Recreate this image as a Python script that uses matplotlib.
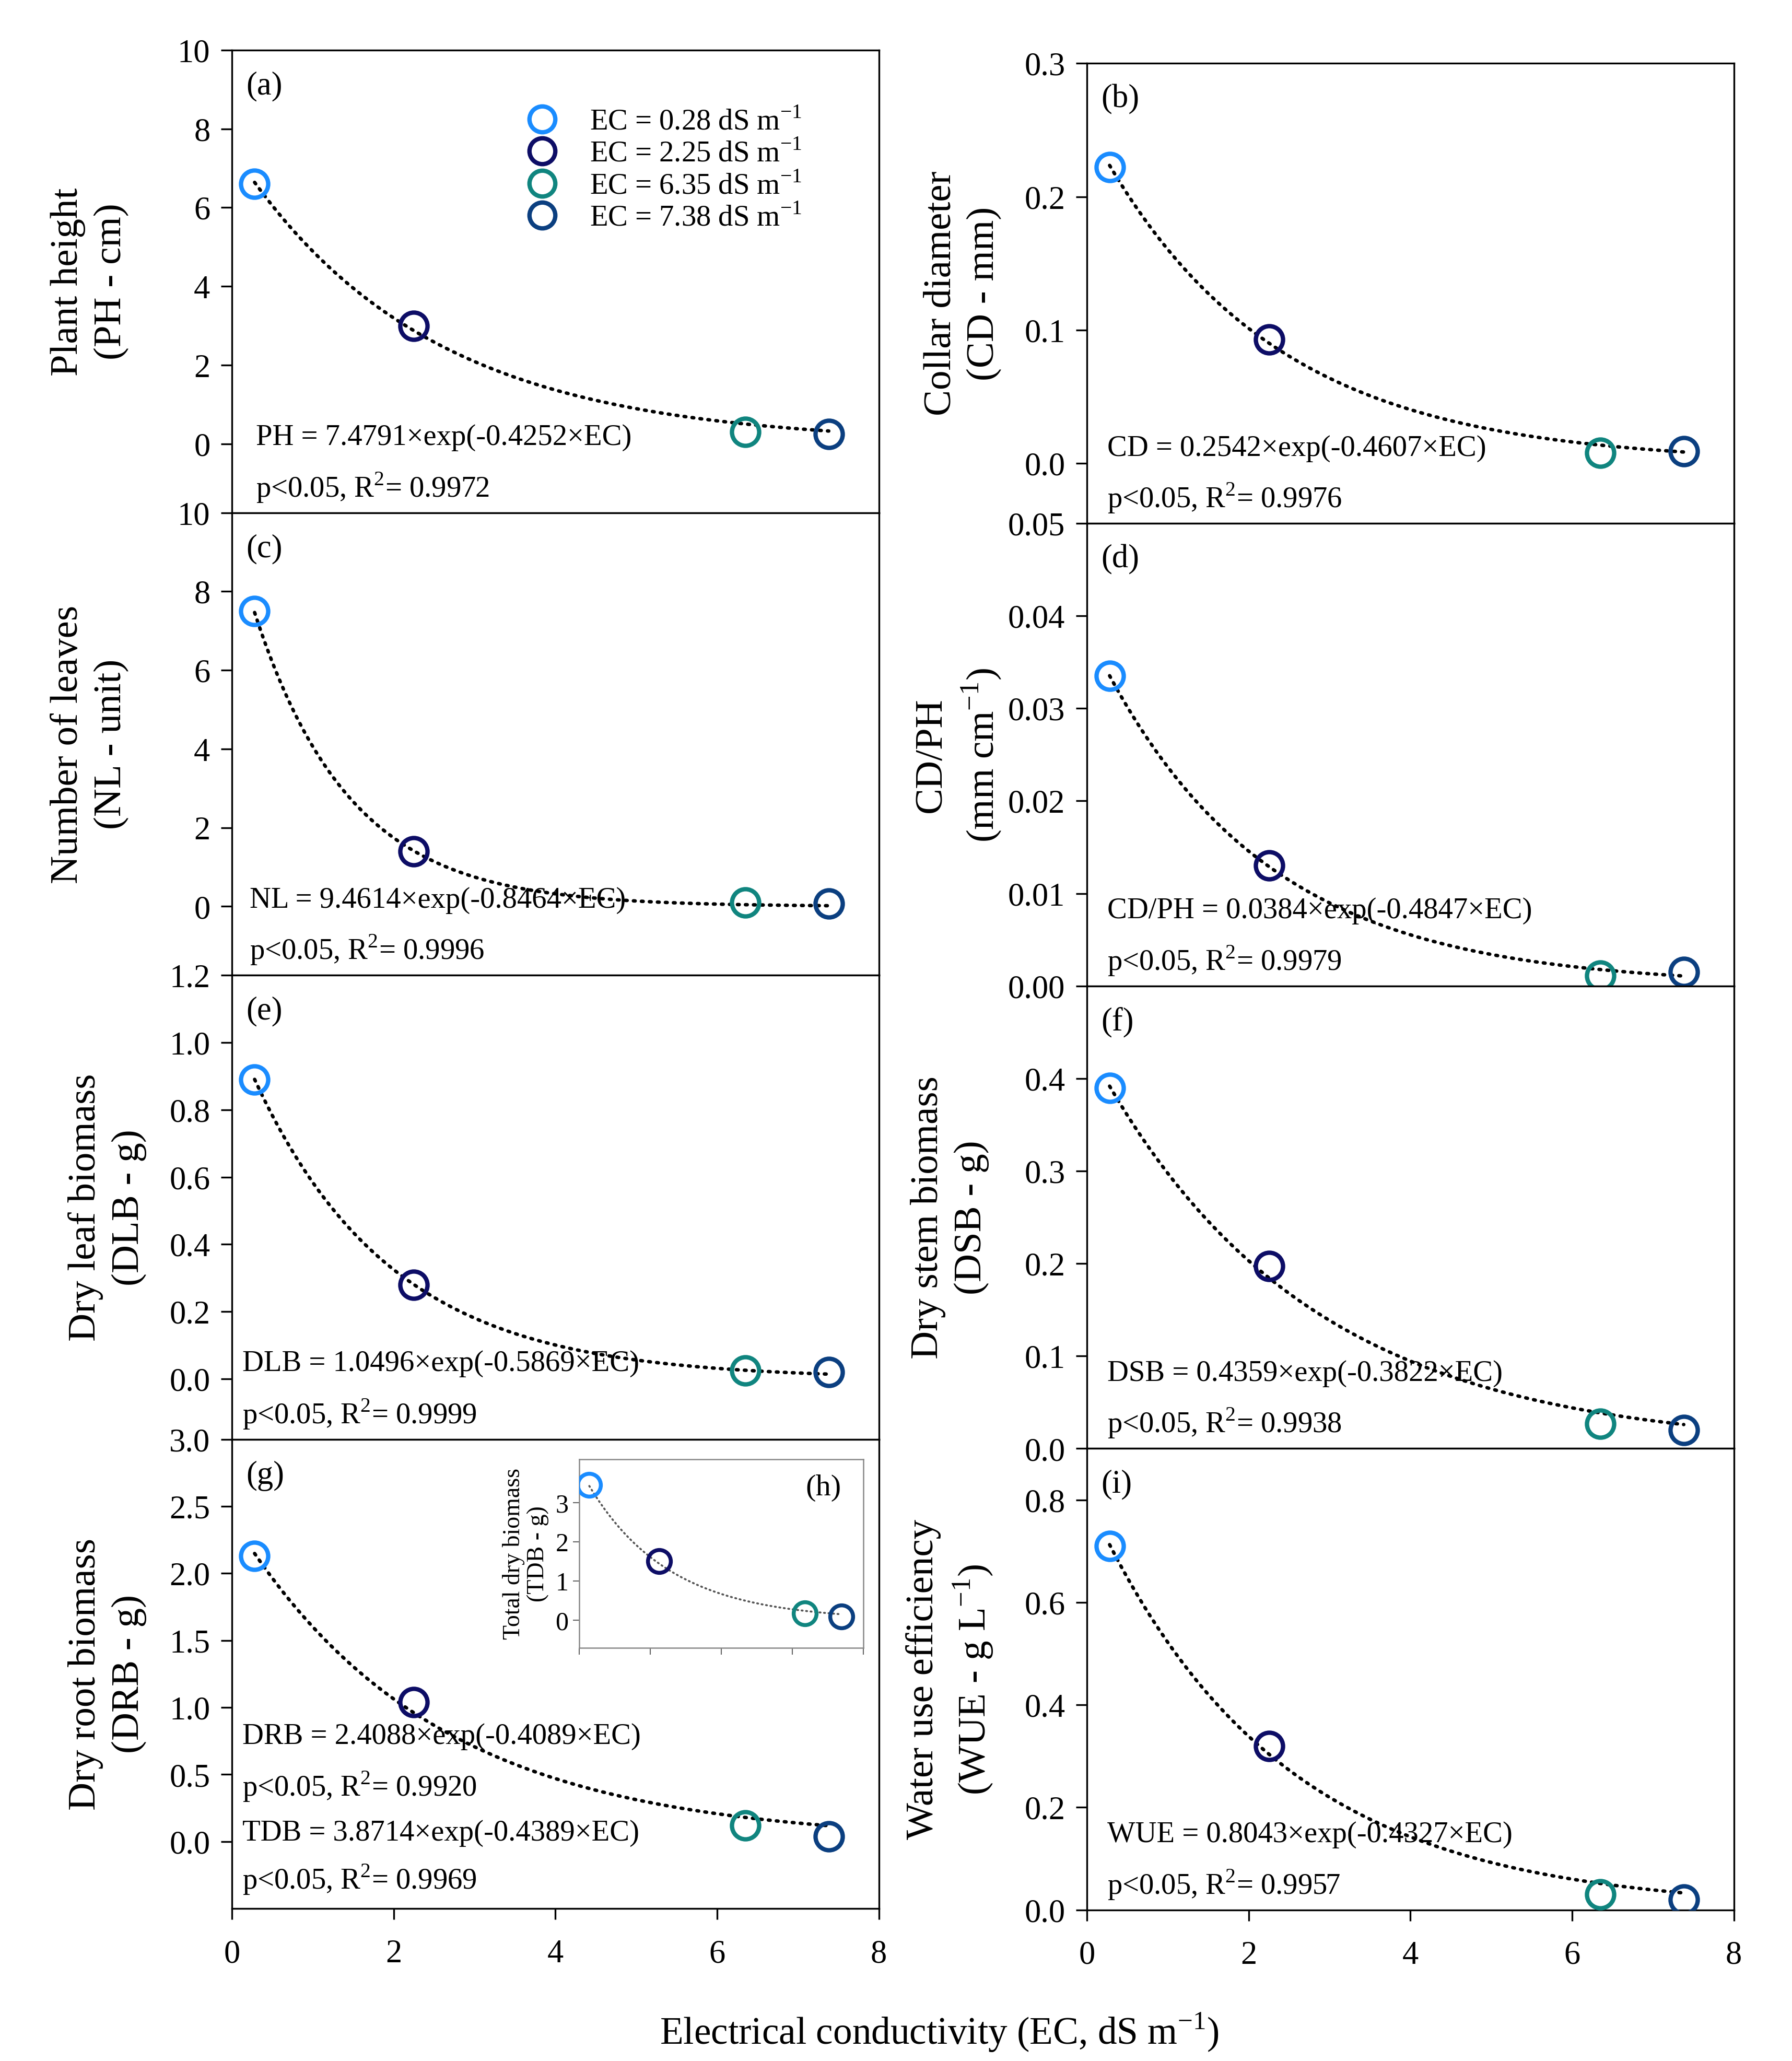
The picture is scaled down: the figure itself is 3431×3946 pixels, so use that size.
import numpy as np
import matplotlib
matplotlib.use("Agg")
import matplotlib.pyplot as plt
from matplotlib.ticker import FormatStrFormatter

plt.rcParams['font.family'] = ['Liberation Serif', 'DejaVu Serif']
plt.rcParams['mathtext.fontset'] = 'custom'
plt.rcParams['mathtext.rm'] = 'Liberation Serif'

# treatment levels (EC, dS m-1)
ec = [0.28, 2.25, 6.35, 7.38]
ec_colors = ['#1a8cff', '#0d0d66', '#10857f', '#0b3f80']

ph = [6.6, 3.0, 0.30, 0.25]
cd = [0.222, 0.093, 0.008, 0.009]
nl = [7.5, 1.4, 0.10, 0.07]
cd_ph = [0.0335, 0.013, 0.0011, 0.0015]
dlb = [0.89, 0.28, 0.025, 0.02]
dsb = [0.39, 0.197, 0.027, 0.020]
drb = [2.13, 1.04, 0.12, 0.04]
tdb = [3.45, 1.50, 0.18, 0.10]
wue = [0.71, 0.32, 0.03, 0.02]

# fitted exponential models y = a*exp(-b*EC)
fit_a = {'PH': 7.4791, 'CD': 0.2542, 'NL': 9.4614, 'CD/PH': 0.0384,
         'DLB': 1.0496, 'DSB': 0.4359, 'DRB': 2.4088, 'TDB': 3.8714, 'WUE': 0.8043}
fit_b = {'PH': 0.4252, 'CD': 0.4607, 'NL': 0.8464, 'CD/PH': 0.4847,
         'DLB': 0.5869, 'DSB': 0.3822, 'DRB': 0.4089, 'TDB': 0.4389, 'WUE': 0.4327}
fit_r2 = {'PH': '0.9972', 'CD': '0.9976', 'NL': '0.9996', 'CD/PH': '0.9979',
          'DLB': '0.9999', 'DSB': '0.9938', 'DRB': '0.9920', 'TDB': '0.9969', 'WUE': '0.9957'}

W, H = 1352.0, 1555.0


def box(x0, x1, top, bottom):
    return [x0 / W, 1 - bottom / H, (x1 - x0) / W, (bottom - top) / H]


def eq_text(key):
    return '%s = %.4f\u00d7exp(-%.4f\u00d7EC)' % (key, fit_a[key], fit_b[key])


def r2_text(key):
    return 'p<0.05, R$^{2}$= ' + fit_r2[key]


def draw_points(ax, vals, key, ms=12.5, mew=2.0, lw=1.6, lcolor='black'):
    xs = np.linspace(ec[0], ec[-1], 200)
    ax.plot(xs, fit_a[key] * np.exp(-fit_b[key] * xs), linestyle=(0, (0.5, 1.8)),
            color=lcolor, lw=lw, dash_capstyle='round', zorder=2)
    for x, y, c in zip(ec, vals, ec_colors):
        ax.plot([x], [y], 'o', ms=ms, mfc='none', mec=c, mew=mew, zorder=3,
                label='EC = %.2f dS m$^{-1}$' % x)


fig = plt.figure(figsize=(W * 2.538 / 300, H * 2.538 / 300), dpi=300)

panels = [
    # values, key, ylabel, ylim, ticks, fmt, box, label, bottom row, ylabel x
    (ph, 'PH', 'Plant height\n(PH - cm)', (-1.75, 10), np.arange(0, 10.1, 2), '%d',
     box(175, 663, 38, 387), '(a)', False, -0.220),
    (nl, 'NL', 'Number of leaves\n(NL - unit)', (-1.75, 10), np.arange(0, 10.1, 2), '%d',
     box(175, 663, 387, 736), '(c)', False, -0.220),
    (dlb, 'DLB', 'Dry leaf biomass\n(DLB - g)', (-0.18, 1.2), np.arange(0, 1.21, 0.2), '%.1f',
     box(175, 663, 736, 1086), '(e)', False, -0.193),
    (drb, 'DRB', 'Dry root biomass\n(DRB - g)', (-0.5, 3.0), np.arange(0, 3.01, 0.5), '%.1f',
     box(175, 663, 1086, 1440), '(g)', True, -0.193),
    (cd, 'CD', 'Collar diameter\n(CD - mm)', (-0.045, 0.3), np.arange(0, 0.31, 0.1), '%.1f',
     box(820, 1308, 48, 395), '(b)', False, -0.192),
    (cd_ph, 'CD/PH', 'CD/PH\n(mm cm$^{-1}$)', (0, 0.05), np.arange(0, 0.051, 0.01), '%.2f',
     box(820, 1308, 395, 744), '(d)', False, -0.198),
    (dsb, 'DSB', 'Dry stem biomass\n(DSB - g)', (0, 0.5), np.arange(0, 0.41, 0.1), '%.1f',
     box(820, 1308, 744, 1093), '(f)', False, -0.212),
    (wue, 'WUE', 'Water use efficiency\n(WUE - g L$^{-1}$)', (0, 0.9), np.arange(0, 0.81, 0.2), '%.1f',
     box(820, 1308, 1093, 1441), '(i)', True, -0.211),
]

fs = 15
tfs = 13.6
for vals, key, ylab, ylim, ticks, fmt, rect, lab, bottom, labx in panels:
    ax = fig.add_axes(rect)
    draw_points(ax, vals, key)
    ax.set_xlim(0, 8)
    ax.set_ylim(*ylim)
    ax.set_yticks(ticks)
    ax.yaxis.set_major_formatter(FormatStrFormatter(fmt))
    ax.text(labx, 0.5, ylab, transform=ax.transAxes, rotation=90, fontsize=18,
            linespacing=1.3, ha='center', va='center', multialignment='center')
    ax.tick_params(axis='y', direction='out', length=5, width=0.8, labelsize=fs, pad=5)
    for sp in ax.spines.values():
        sp.set_linewidth(0.8)
    if bottom:
        ax.set_xticks([0, 2, 4, 6, 8])
        ax.tick_params(axis='x', direction='out', length=5, width=0.8, labelsize=fs, pad=9)
    else:
        ax.set_xticks([])
    ax.text(0.022, 0.955, lab, transform=ax.transAxes, fontsize=fs, va='top', ha='left')

    if key == 'DRB':
        for txt, yy in [(eq_text('DRB'), 0.367), (r2_text('DRB'), 0.26),
                        (eq_text('TDB'), 0.161), (r2_text('TDB'), 0.062)]:
            ax.text(0.016, yy, txt, transform=ax.transAxes, fontsize=tfs, va='center')
        # inset (h): total dry biomass
        ins = ax.inset_axes([0.537, 0.556, 0.439, 0.401])
        draw_points(ins, tdb, 'TDB', ms=10.5, mew=1.8, lw=0.9, lcolor='#555555')
        ins.set_xlim(0, 8)
        ins.set_ylim(-0.7, 4.1)
        ins.set_xticks([0, 2, 4, 6, 8])
        ins.set_xticklabels([])
        ins.set_yticks([0, 1, 2, 3])
        ins.tick_params(direction='out', length=3, width=0.5, labelsize=12, pad=2,
                        color='#666666')
        for sp in ins.spines.values():
            sp.set_color('#888888')
            sp.set_linewidth(0.6)
        ins.set_ylabel('Total dry biomass\n(TDB - g)', fontsize=11, linespacing=1.1, labelpad=3)
        ins.text(0.86, 0.85, '(h)', transform=ins.transAxes, fontsize=14, ha='center', va='center')
    else:
        x0 = 0.037 if rect[0] < 0.5 else 0.031
        if key == 'NL':
            x0 = 0.027
        if key == 'DLB':
            x0 = 0.016
        ax.text(x0, 0.163, eq_text(key), transform=ax.transAxes, fontsize=tfs, va='center')
        ax.text(x0, 0.055, r2_text(key), transform=ax.transAxes, fontsize=tfs, va='center')

    if key == 'PH':
        ax.legend(loc='upper left', bbox_to_anchor=(0.452, 0.874), frameon=False,
                  fontsize=tfs, handletextpad=1.0, labelspacing=0.16, borderaxespad=0,
                  borderpad=0, handlelength=1.2, markerscale=0.95)

fig.text(0.524, 0.014, 'Electrical conductivity (EC, dS m$^{-1}$)', ha='center', va='center',
         fontsize=17.6)

fig.savefig('out.png', dpi=300)
